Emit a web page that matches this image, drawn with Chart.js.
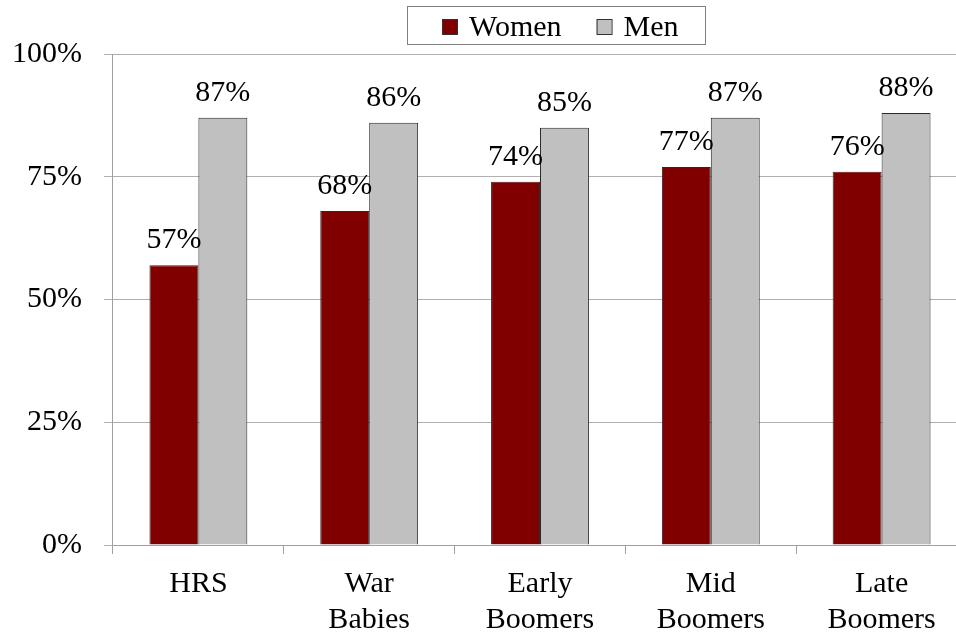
<!DOCTYPE html>
<html>
<head>
<meta charset="utf-8">
<script src="https://cdn.jsdelivr.net/npm/chart.js@4.4.1/dist/chart.umd.min.js"></script>
<style>
  html, body { margin: 0; padding: 0; background: #fff; overflow: hidden; }
  #wrap { width: 956px; height: 635px; overflow: hidden; position: relative; }
  #myBarChart { position: absolute; left: -22px; top: 0; }
</style>
</head>
<body>
<div id="wrap"><canvas id="myBarChart" width="992" height="652"></canvas></div>
<script>
// data
const categories = [['HRS'], ['War', 'Babies'], ['Early', 'Boomers'], ['Mid', 'Boomers'], ['Late', 'Boomers']];
const women = [57, 68, 74, 77, 76];
const men = [87, 86, 85, 87, 88];
const yTicks = [0, 25, 50, 75, 100];

Chart.defaults.font.family = "'Liberation Serif', 'Times New Roman', serif";
Chart.defaults.font.size = 30;
Chart.defaults.color = '#000';

const SHIFT = 22; // canvas is moved left by this much

// legend with a border, drawn by hand
const boxLegend = {
  id: 'boxLegend',
  afterDraw(chart) {
    const ctx = chart.ctx;
    ctx.save();
    ctx.strokeStyle = '#808080';
    ctx.lineWidth = 1;
    ctx.strokeRect(407.5 + SHIFT, 6.5, 298, 38);
    ctx.font = "30px 'Liberation Serif', 'Times New Roman', serif";
    ctx.textBaseline = 'alphabetic';
    let x = 442 + SHIFT;
    chart.data.datasets.forEach(ds => {
      ctx.fillStyle = ds.backgroundColor;
      ctx.fillRect(x, 19, 15, 15);
      ctx.strokeStyle = '#333';
      ctx.strokeRect(x + 0.5, 19.5, 15, 15);
      x += 27;
      ctx.fillStyle = '#000';
      ctx.fillText(ds.label, x, 36);
      x += ctx.measureText(ds.label).width + 35;
    });
    ctx.restore();
  }
};

// percent labels above bars
const barLabels = {
  id: 'barLabels',
  afterDatasetsDraw(chart) {
    const ctx = chart.ctx;
    ctx.save();
    ctx.font = "30px 'Liberation Serif', 'Times New Roman', serif";
    ctx.fillStyle = '#000';
    ctx.textAlign = 'center';
    ctx.textBaseline = 'alphabetic';
    chart.data.datasets.forEach((ds, i) => {
      chart.getDatasetMeta(i).data.forEach((bar, j) => {
        ctx.fillText(ds.data[j] + '%', bar.x, bar.y - 17);
      });
    });
    ctx.restore();
  }
};

const ctxBar = document.getElementById('myBarChart').getContext('2d');
const myBarChart = new Chart(ctxBar, {
  type: 'bar',
  data: {
    labels: categories,
    datasets: [{
      label: 'Women',
      data: women,
      backgroundColor: '#800000',
      borderColor: '#2a2a2a',
      borderWidth: 1
    }, {
      label: 'Men',
      data: men,
      backgroundColor: '#c0c0c0',
      borderColor: '#2a2a2a',
      borderWidth: 1
    }]
  },
  options: {
    responsive: false,
    animation: false,
    categoryPercentage: 0.573,
    barPercentage: 1,
    layout: {
      padding: { left: 12, right: 3, top: 54, bottom: 2 }
    },
    plugins: {
      legend: { display: false },
      tooltip: { enabled: false }
    },
    scales: {
      x: {
        grid: {
          display: true,
          drawOnChartArea: false,
          drawTicks: true,
          tickLength: 9,
          color: '#a0a0a0',
          offset: true
        },
        border: { color: '#a0a0a0', width: 1 },
        ticks: { padding: 12, maxRotation: 0, autoSkip: false }
      },
      y: {
        min: 0,
        max: 100,
        afterBuildTicks(axis) {
          axis.ticks = yTicks.map(v => ({ value: v }));
        },
        grid: {
          color: '#b0b0b0',
          tickLength: 9
        },
        border: { color: '#a0a0a0', width: 1 },
        ticks: {
          padding: 22,
          callback: v => v + '%'
        }
      }
    }
  },
  plugins: [boxLegend, barLabels]
});
</script>
</body>
</html>
